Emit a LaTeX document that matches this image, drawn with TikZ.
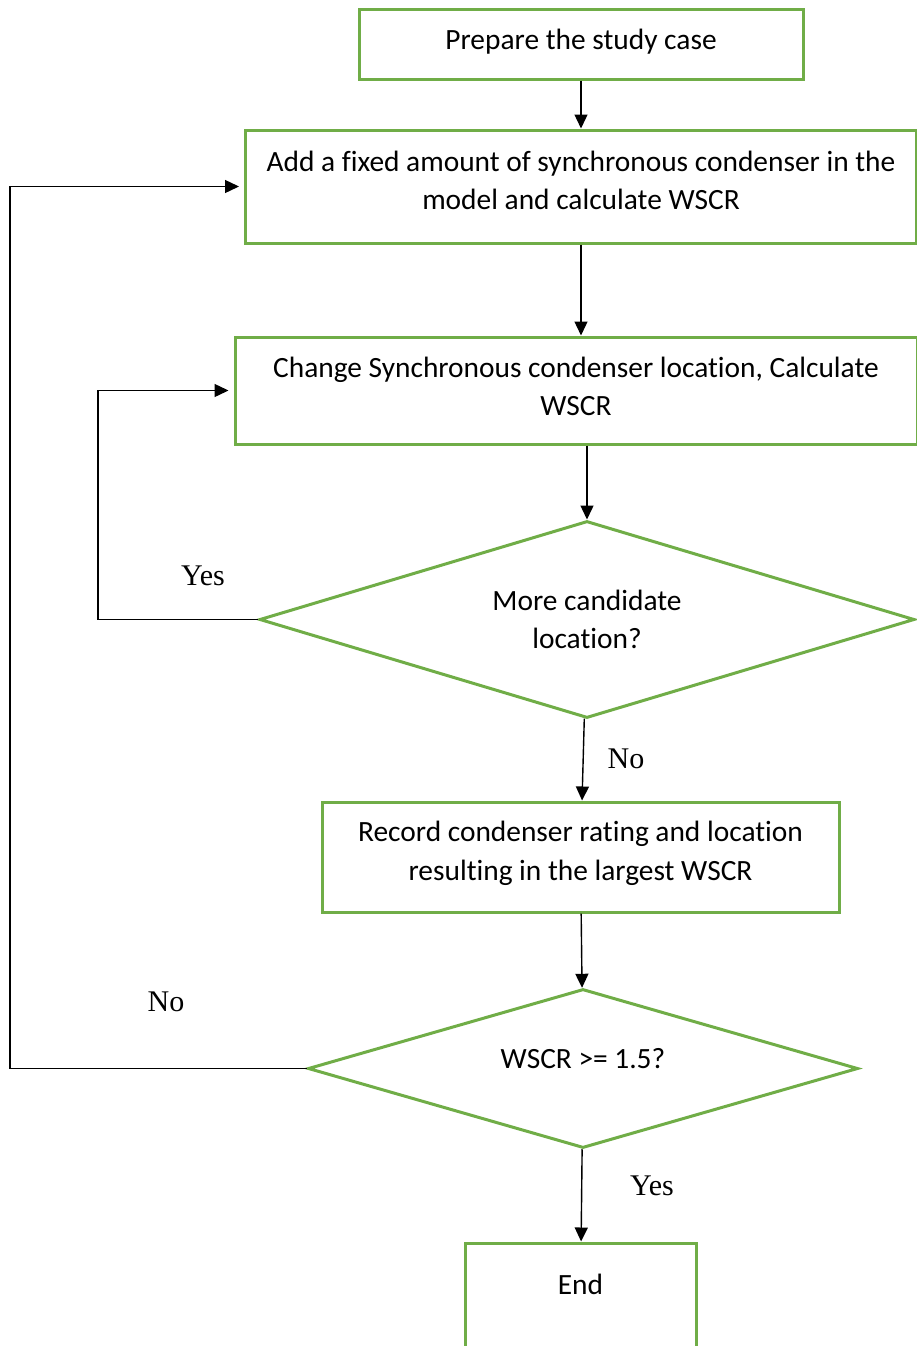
\documentclass[tikz,border=0pt]{standalone}
\usepackage{fontspec}
\setmainfont{Liberation Serif}
\newfontfamily\boxfont{Carlito}[Ligatures=CommonOff]
\usetikzlibrary{arrows.meta,shapes.geometric}
\definecolor{boxgreen}{RGB}{112,173,71}

\begin{document}
\begin{tikzpicture}[x=1pt,y=-1pt,
  stepbox/.style={draw=boxgreen,line width=3pt,align=center,inner sep=0pt,
    font=\boxfont\fontsize{29.4}{38.5}\selectfont},
  decision/.style={stepbox,diamond},
  flow/.style={line width=1.4pt,-{Triangle[length=14pt,width=13pt]}},
  answer/.style={font=\fontsize{30}{36}\selectfont}]
\useasboundingbox (0,0) rectangle (917,1346);

\node[stepbox,minimum width=444,minimum height=69,text depth=10pt] (prep) at (581,44.5) {Prepare the study case};
\node[stepbox,minimum width=671,minimum height=113,text depth=12pt] (addsc) at (581,186.5)
  {Add a fixed amount of synchronous condenser in the\\model and calculate WSCR};
\node[stepbox,minimum width=682,minimum height=107,text depth=8pt] (chgloc) at (576,390.5)
  {Change Synchronous condenser location, Calculate\\WSCR};
\node[decision,minimum width=655,minimum height=197,aspect=3.3] (more) at (587,619.5)
  {More candidate\\location?};
\node[stepbox,minimum width=517,minimum height=110,text depth=12pt] (record) at (580.5,857)
  {Record condenser rating and location\\resulting in the largest WSCR};
\node[decision,minimum width=550,minimum height=159,aspect=3.4,text depth=20pt] (check) at (583,1068.5)
  {WSCR >= 1.5?};
\node[stepbox,minimum width=231,minimum height=110,text depth=28pt] (finish) at (580.5,1298) {End};

\coordinate (yesturn) at (98,619.5);
\coordinate (noturn) at (10,1068.5);

\draw[flow] (prep) -- (addsc);
\draw[flow] (addsc) -- (chgloc.north -| addsc.south);
\draw[flow] (chgloc.south -| more.north) -- (more);
\draw[flow] (more) -- (record);
\draw[flow] (record) -- (check);
\draw[flow] (check) -- (finish);
\draw[flow,shorten >=5pt] (more.west) -- (yesturn) |- (chgloc.west);
\draw[flow,shorten >=5pt] (check.west) -- (noturn) |- (addsc.west);

\node[answer] (yes1) at (203,576) {Yes};
\node[answer] (no1) at (626,759) {No};
\node[answer] (no2) at (166,1002) {No};
\node[answer] (yes2) at (652,1186) {Yes};
\end{tikzpicture}
\end{document}
